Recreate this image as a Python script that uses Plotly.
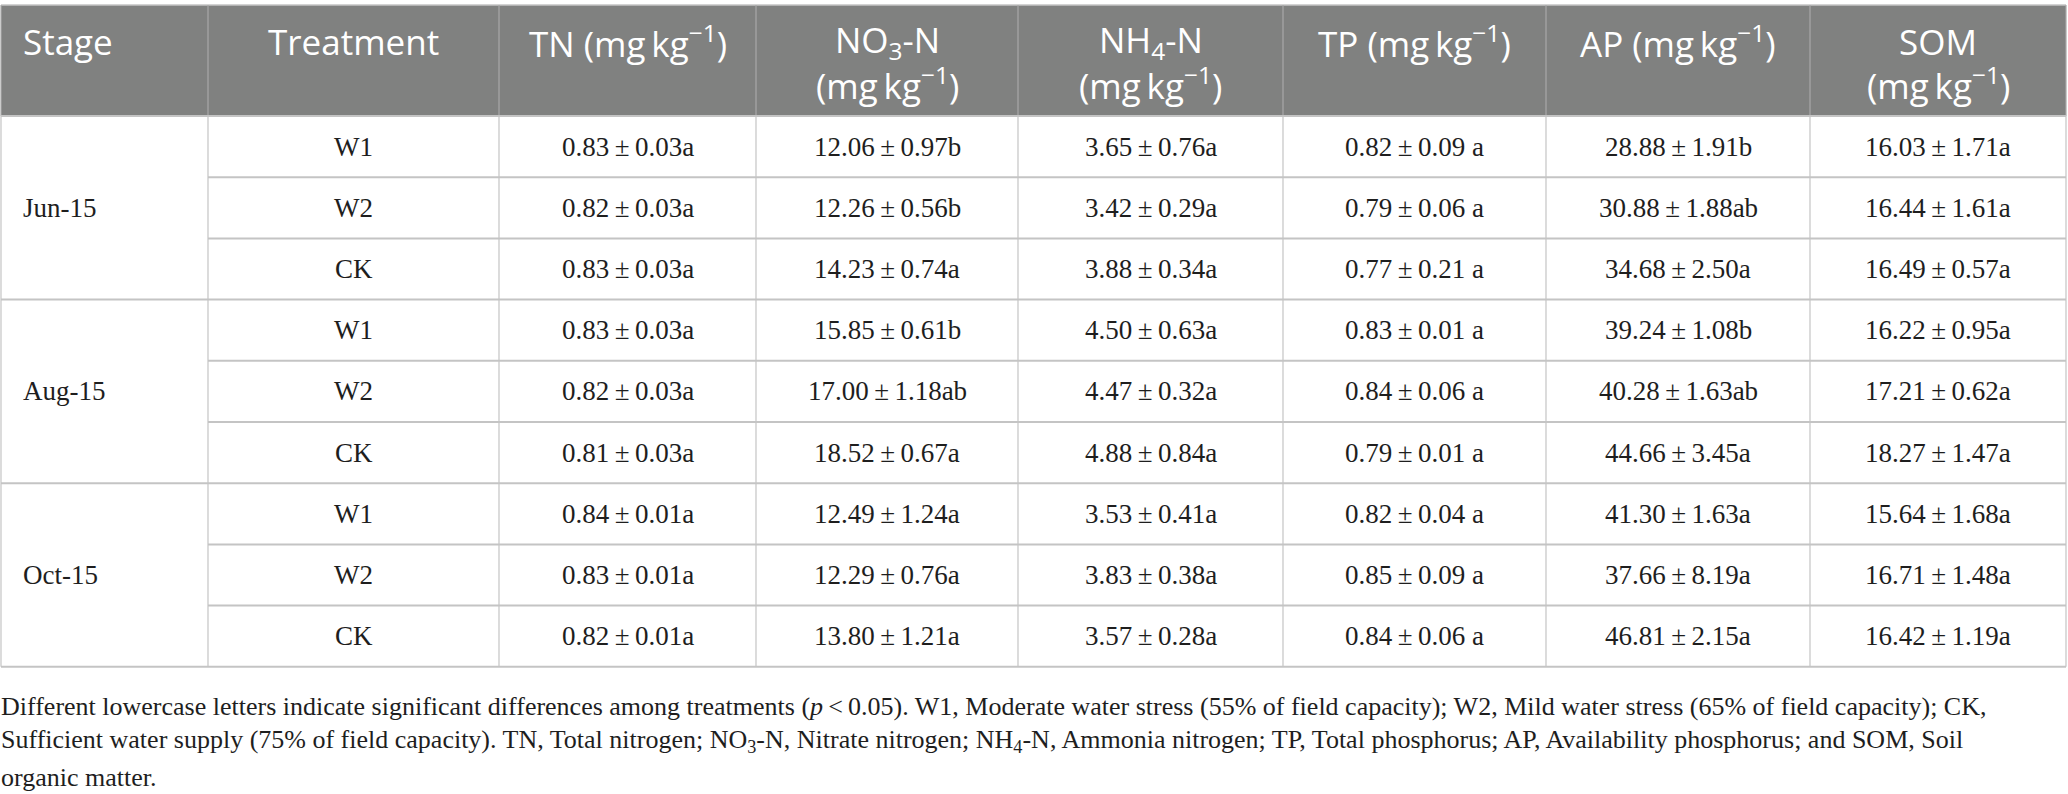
import plotly.graph_objects as go

# table content
stages = ["Jun-15", "Aug-15", "Oct-15"]
treatments = ["W1", "W2", "CK"]

headers = [
    "Stage",
    "Treatment",
    "TN (mg\u2009kg<sup>\u22121</sup>)",
    "NO<sub>3</sub>-N<br>(mg\u2009kg<sup>\u22121</sup>)",
    "NH<sub>4</sub>-N<br>(mg\u2009kg<sup>\u22121</sup>)",
    "TP (mg\u2009kg<sup>\u22121</sup>)",
    "AP (mg\u2009kg<sup>\u22121</sup>)",
    "SOM<br>(mg\u2009kg<sup>\u22121</sup>)",
]

tn = ["0.83±0.03a", "0.82±0.03a", "0.83±0.03a",
      "0.83±0.03a", "0.82±0.03a", "0.81±0.03a",
      "0.84±0.01a", "0.83±0.01a", "0.82±0.01a"]
no3 = ["12.06±0.97b", "12.26±0.56b", "14.23±0.74a",
       "15.85±0.61b", "17.00±1.18ab", "18.52±0.67a",
       "12.49±1.24a", "12.29±0.76a", "13.80±1.21a"]
nh4 = ["3.65±0.76a", "3.42±0.29a", "3.88±0.34a",
       "4.50±0.63a", "4.47±0.32a", "4.88±0.84a",
       "3.53±0.41a", "3.83±0.38a", "3.57±0.28a"]
tp = ["0.82±0.09 a", "0.79±0.06 a", "0.77±0.21 a",
      "0.83±0.01 a", "0.84±0.06 a", "0.79±0.01 a",
      "0.82±0.04 a", "0.85±0.09 a", "0.84±0.06 a"]
ap = ["28.88±1.91b", "30.88±1.88ab", "34.68±2.50a",
      "39.24±1.08b", "40.28±1.63ab", "44.66±3.45a",
      "41.30±1.63a", "37.66±8.19a", "46.81±2.15a"]
som = ["16.03±1.71a", "16.44±1.61a", "16.49±0.57a",
       "16.22±0.95a", "17.21±0.62a", "18.27±1.47a",
       "15.64±1.68a", "16.71±1.48a", "16.42±1.19a"]

footnote = [
    "Different lowercase letters indicate significant differences among treatments (<i>p</i>\u2009<\u20090.05). "
    "W1, Moderate water stress (55% of field capacity); W2, Mild water stress (65% of field capacity); CK,",
    "Sufficient water supply (75% of field capacity). TN, Total nitrogen; NO<sub>3</sub>-N, Nitrate nitrogen; "
    "NH<sub>4</sub>-N, Ammonia nitrogen; TP, Total phosphorus; AP, Availability phosphorus; and SOM, Soil",
    "organic matter.",
]

W, H = 2068, 794
col_edges = [1, 208, 499, 756, 1018, 1283, 1546, 1810, 2066]
head_top, head_bot = 5, 116
head_lines = [41, 83]
row_h = 61.2
foot_y = [706, 741, 777]
line_col = "#c4c4c4"
head_bg = "#808180"

value_cols = [tn, no3, nh4, tp, ap, som]
n_rows = len(stages) * len(treatments)
body_bot = head_bot + n_rows * row_h

fig = go.Figure()
shapes = []
ann = []

# header band
shapes.append(dict(type="rect", x0=col_edges[0], x1=col_edges[-1], y0=head_top, y1=head_bot,
                   fillcolor=head_bg, line=dict(width=0), layer="below"))

def hline(x0, x1, y, w=1.5):
    shapes.append(dict(type="line", x0=x0, x1=x1, y0=y, y1=y, line=dict(color=line_col, width=w)))

def vline(x, y0, y1, color=line_col, w=1.2):
    shapes.append(dict(type="line", x0=x, x1=x, y0=y0, y1=y1, line=dict(color=color, width=w)))

hline(col_edges[0], col_edges[-1], head_top)
for x in col_edges:
    vline(x, head_top, head_bot, color="#a8a8a8")
    vline(x, head_bot, body_bot)

for i in range(n_rows + 1):
    y = head_bot + i * row_h
    if i % len(treatments) == 0:
        hline(col_edges[0], col_edges[-1], y, 2)
    else:
        hline(col_edges[1], col_edges[-1], y, 2)

head_font = dict(family="Open Sans", size=35, color="white")
body_font = dict(family="Liberation Serif", size=27, color="#1e1e1e")

for j, h in enumerate(headers):
    for k, part in enumerate(h.split("<br>")):
        if j == 0:
            ann.append(dict(x=col_edges[0] + 20, y=head_lines[k], text=part, xanchor="left",
                            yanchor="middle", font=head_font))
        else:
            ann.append(dict(x=(col_edges[j] + col_edges[j + 1]) / 2, y=head_lines[k], text=part,
                            xanchor="center", yanchor="middle", font=head_font))

for s, stage in enumerate(stages):
    yc = head_bot + (s * len(treatments) + len(treatments) / 2) * row_h
    ann.append(dict(x=col_edges[0] + 20, y=yc, text=stage, xanchor="left", yanchor="middle",
                    font=body_font))
    for t, trt in enumerate(treatments):
        r = s * len(treatments) + t
        yr = head_bot + (r + 0.5) * row_h
        ann.append(dict(x=(col_edges[1] + col_edges[2]) / 2, y=yr, text=trt,
                        xanchor="center", yanchor="middle", font=body_font))
        for c, col in enumerate(value_cols):
            txt = col[r].replace("±", "\u2009±\u2009")
            ann.append(dict(x=(col_edges[c + 2] + col_edges[c + 3]) / 2, y=yr, text=txt,
                            xanchor="center", yanchor="middle", font=body_font))

foot_font = dict(family="Liberation Serif", size=26, color="#1e1e1e")
for k, line in enumerate(footnote):
    ann.append(dict(x=col_edges[0] - 1, y=foot_y[k], text=line, xanchor="left", yanchor="middle",
                    align="left", font=foot_font, borderpad=0))

for a in ann:
    a.update(xref="x", yref="y", showarrow=False)

fig.update_layout(
    width=W, height=H,
    margin=dict(l=0, r=0, t=0, b=0),
    paper_bgcolor="white", plot_bgcolor="white",
    xaxis=dict(range=[0, W], visible=False, fixedrange=True),
    yaxis=dict(range=[H, 0], visible=False, fixedrange=True),
    shapes=shapes, annotations=ann, showlegend=False,
)

# page body has a default 8px margin; drop it so the figure sits at the window corner
fig.write_html("out.html", config={"displayModeBar": False},
               post_script="document.body.style.margin='0';document.body.style.overflow='hidden';")
